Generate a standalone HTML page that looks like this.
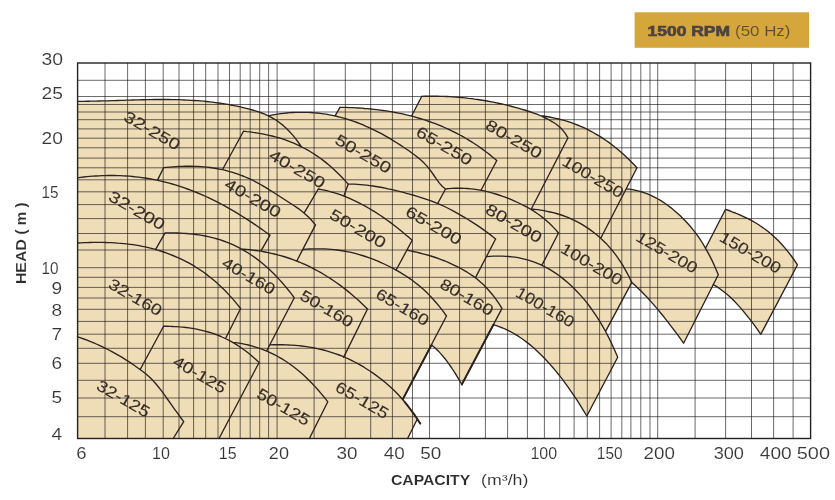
<!DOCTYPE html>
<html><head><meta charset="utf-8"><title>1500 RPM coverage chart</title>
<style>html,body{margin:0;padding:0;background:#fff;}body{width:835px;height:500px;position:relative;overflow:hidden;font-family:"Liberation Sans",sans-serif;}</style></head>
<body>
<svg width="835" height="500" viewBox="0 0 835 500" style="position:absolute;left:0;top:0;font-family:'Liberation Sans',sans-serif">
<rect width="835" height="500" fill="#fff"/>
<rect x="634.6" y="12.3" width="174.5" height="35.5" fill="#D5A63C"/>
<path d="M77.6,438.5 L77.6,101.3 L77.6,101.3 L80.7,101.3 L83.7,101.3 L86.8,101.2 L89.9,101.2 L92.9,101.1 L96.0,101.1 L99.1,101.0 L102.1,100.9 L105.2,100.8 L108.3,100.8 L111.3,100.7 L114.4,100.6 L117.5,100.5 L120.5,100.4 L123.6,100.3 L126.7,100.2 L129.7,100.1 L132.8,100.0 L135.9,99.9 L138.9,99.8 L142.0,99.7 L145.1,99.7 L148.1,99.6 L151.2,99.6 L154.3,99.5 L157.3,99.5 L160.4,99.5 L163.5,99.5 L166.5,99.5 L169.6,99.5 L172.7,99.6 L175.7,99.6 L178.8,99.7 L181.9,99.8 L184.9,100.0 L188.0,100.1 L191.1,100.3 L194.2,100.5 L197.2,100.7 L200.3,100.9 L203.4,101.2 L206.4,101.5 L209.5,101.8 L212.6,102.2 L215.6,102.6 L218.7,103.0 L221.8,103.4 L224.8,103.9 L227.9,104.4 L231.0,105.0 L234.0,105.6 L237.1,106.2 L240.2,106.9 L243.2,107.6 L246.3,108.4 L249.4,109.2 L252.4,110.0 L255.5,110.9 L258.6,111.9 L261.6,113.0 L264.7,114.2 L267.8,115.6 L268.4,115.8 L271.5,115.2 L274.5,114.6 L277.6,114.1 L280.6,113.7 L283.7,113.3 L286.7,113.0 L289.8,112.7 L292.8,112.5 L295.9,112.4 L298.9,112.3 L302.0,112.3 L305.0,112.3 L308.1,112.4 L311.1,112.5 L314.2,112.8 L317.3,113.0 L320.3,113.4 L323.4,113.8 L326.4,114.2 L329.5,114.8 L332.5,115.4 L335.2,115.6 L340.0,107.3 L340.0,107.3 L343.1,107.4 L346.1,107.4 L349.2,107.6 L352.3,107.7 L355.4,107.8 L358.4,108.0 L361.5,108.2 L364.6,108.5 L367.7,108.7 L370.7,109.0 L373.8,109.3 L376.9,109.7 L380.0,110.1 L383.0,110.5 L386.1,110.9 L389.2,111.4 L392.3,111.9 L395.3,112.5 L398.4,113.1 L401.5,113.7 L404.6,114.4 L407.6,115.1 L410.7,115.9 L411.7,115.7 L421.8,96.3 L421.8,96.3 L424.9,96.2 L428.0,96.2 L431.1,96.2 L434.2,96.2 L437.4,96.2 L440.5,96.3 L443.6,96.4 L446.7,96.5 L449.8,96.7 L452.9,96.9 L456.0,97.1 L459.1,97.3 L462.2,97.6 L465.3,97.9 L468.5,98.3 L471.6,98.6 L474.7,99.1 L477.8,99.5 L480.9,100.0 L484.0,100.5 L487.1,101.0 L490.2,101.6 L493.3,102.2 L496.5,102.8 L499.6,103.5 L502.7,104.2 L505.8,104.9 L508.9,105.7 L512.0,106.5 L515.1,107.3 L518.2,108.2 L521.3,109.1 L524.5,110.0 L527.6,111.0 L530.7,112.0 L533.8,113.1 L536.9,114.2 L540.0,115.5 L543.1,116.0 L546.3,116.5 L549.4,117.0 L552.5,117.6 L555.6,118.3 L558.8,119.0 L561.9,119.8 L565.0,120.7 L568.2,121.7 L571.3,122.7 L574.4,123.8 L577.5,125.0 L580.7,126.3 L583.8,127.7 L586.9,129.2 L590.1,130.8 L593.2,132.5 L596.3,134.3 L599.5,136.1 L602.6,138.1 L605.7,140.2 L608.8,142.4 L612.0,144.8 L615.1,147.2 L618.2,149.8 L621.4,152.5 L624.5,155.3 L627.6,158.2 L630.7,161.3 L633.9,164.5 L637.0,167.8 L637.0,167.8 L626.4,188.8 L626.4,188.8 L629.6,189.2 L632.7,189.7 L635.9,190.3 L639.1,191.1 L642.2,192.0 L645.4,193.1 L648.6,194.4 L651.8,195.8 L654.9,197.3 L658.1,199.0 L661.3,200.9 L664.4,203.0 L667.6,205.2 L670.8,207.6 L673.9,210.2 L677.1,212.9 L680.3,215.8 L683.4,219.0 L686.6,222.3 L689.8,225.8 L692.9,229.6 L696.1,233.7 L699.3,238.1 L702.5,243.0 L705.5,248.2 L725.6,209.3 L725.6,209.3 L728.9,210.5 L732.1,211.8 L735.4,213.0 L738.7,214.4 L741.9,215.8 L745.2,217.3 L748.5,218.9 L751.7,220.7 L755.0,222.5 L758.3,224.5 L761.5,226.7 L764.8,229.0 L768.1,231.5 L771.4,234.3 L774.6,237.2 L777.9,240.3 L781.2,243.7 L784.4,247.4 L787.7,251.3 L791.0,255.5 L794.2,260.0 L797.5,264.8 L797.5,264.8 L760.8,334.3 L760.8,334.3 L757.4,329.4 L754.0,324.7 L750.6,320.2 L747.1,315.8 L743.7,311.6 L740.3,307.6 L736.9,303.9 L733.5,300.3 L730.1,297.0 L726.7,294.0 L723.2,291.2 L719.8,288.7 L716.4,286.4 L713.0,284.5 L683.6,343.2 L683.6,343.2 L680.4,338.7 L677.1,334.2 L673.9,329.8 L670.6,325.6 L667.4,321.4 L664.2,317.3 L660.9,313.3 L657.7,309.4 L654.5,305.6 L651.2,301.9 L648.0,298.3 L644.8,294.9 L641.5,291.6 L638.3,288.4 L635.0,285.3 L631.8,282.4 L605.6,331.4 L608.4,336.9 L611.5,343.2 L614.6,350.0 L617.7,357.3 L617.7,357.3 L586.8,416.0 L586.8,416.0 L583.7,410.8 L580.6,405.8 L577.5,400.9 L574.3,396.2 L571.2,391.6 L568.1,387.1 L565.0,382.9 L561.9,378.7 L558.8,374.7 L555.7,370.9 L552.6,367.2 L549.4,363.6 L546.3,360.2 L543.2,357.0 L540.1,353.9 L537.0,350.9 L533.9,348.1 L530.8,345.4 L527.6,342.9 L524.5,340.5 L521.4,338.3 L518.3,336.2 L515.2,334.3 L512.1,332.5 L509.0,330.9 L505.9,329.4 L502.7,328.0 L499.6,326.8 L496.5,325.7 L493.4,324.8 L461.8,384.5 L461.8,384.5 L458.4,378.7 L455.1,373.2 L451.7,368.0 L448.3,363.2 L445.0,358.7 L441.6,354.6 L438.2,350.9 L434.9,347.7 L431.5,345.0 L402.8,399.2 L404.6,401.8 L407.7,405.7 L410.8,409.8 L414.0,414.1 L417.1,418.7 L417.2,419.2 L407.6,438.5Z" fill="#EFDDB8"/>
<path d="M105.0,63.0 V438.5 M127.6,63.0 V438.5 M145.4,63.0 V438.5 M163.2,63.0 V438.5 M179.0,63.0 V438.5 M193.6,63.0 V438.5 M205.7,63.0 V438.5 M218.0,63.0 V438.5 M229.5,63.0 V438.5 M240.2,63.0 V438.5 M250.2,63.0 V438.5 M259.7,63.0 V438.5 M268.6,63.0 V438.5 M277.1,63.0 V438.5 M314.1,63.0 V438.5 M345.3,63.0 V438.5 M370.7,63.0 V438.5 M392.4,63.0 V438.5 M412.5,63.0 V438.5 M429.5,63.0 V438.5 M459.6,63.0 V438.5 M485.4,63.0 V438.5 M507.6,63.0 V438.5 M527.4,63.0 V438.5 M544.4,63.0 V438.5 M559.7,63.0 V438.5 M574.1,63.0 V438.5 M587.3,63.0 V438.5 M599.6,63.0 V438.5 M611.1,63.0 V438.5 M621.8,63.0 V438.5 M630.9,63.0 V438.5 M640.8,63.0 V438.5 M650.0,63.0 V438.5 M657.7,63.0 V438.5 M695.1,63.0 V438.5 M725.6,63.0 V438.5 M751.5,63.0 V438.5 M773.6,63.0 V438.5 M793.1,63.0 V438.5" stroke="#141210" stroke-width="0.63" fill="none"/>
<path d="M77.6,416.7 H810.6 M77.6,398.0 H810.6 M77.6,380.3 H810.6 M77.6,363.3 H810.6 M77.6,348.3 H810.6 M77.6,334.2 H810.6 M77.6,321.4 H810.6 M77.6,309.3 H810.6 M77.6,298.0 H810.6 M77.6,287.4 H810.6 M77.6,277.3 H810.6 M77.6,267.7 H810.6 M77.6,250.0 H810.6 M77.6,233.5 H810.6 M77.6,218.6 H810.6 M77.6,204.6 H810.6 M77.6,191.8 H810.6 M77.6,179.8 H810.6 M77.6,167.8 H810.6 M77.6,158.1 H810.6 M77.6,147.8 H810.6 M77.6,138.2 H810.6 M77.6,128.9 H810.6 M77.6,119.7 H810.6 M77.6,112.0 H810.6 M77.6,104.5 H810.6 M77.6,96.5 H810.6 M77.6,80.3 H810.6" stroke="#141210" stroke-width="0.63" fill="none"/>
<rect x="77.6" y="63.0" width="733.0" height="375.5" fill="none" stroke="#222" stroke-width="1.4"/>
<path d="M77.6,101.3 L80.7,101.3 L83.7,101.3 L86.8,101.2 L89.9,101.2 L92.9,101.1 L96.0,101.1 L99.1,101.0 L102.1,100.9 L105.2,100.8 L108.3,100.8 L111.3,100.7 L114.4,100.6 L117.5,100.5 L120.5,100.4 L123.6,100.3 L126.7,100.2 L129.7,100.1 L132.8,100.0 L135.9,99.9 L138.9,99.8 L142.0,99.7 L145.1,99.7 L148.1,99.6 L151.2,99.6 L154.3,99.5 L157.3,99.5 L160.4,99.5 L163.5,99.5 L166.5,99.5 L169.6,99.5 L172.7,99.6 L175.7,99.6 L178.8,99.7 L181.9,99.8 L184.9,100.0 L188.0,100.1 L191.1,100.3 L194.2,100.5 L197.2,100.7 L200.3,100.9 L203.4,101.2 L206.4,101.5 L209.5,101.8 L212.6,102.2 L215.6,102.6 L218.7,103.0 L221.8,103.4 L224.8,103.9 L227.9,104.4 L231.0,105.0 L234.0,105.6 L237.1,106.2 L240.2,106.9 L243.2,107.6 L246.3,108.4 L249.4,109.2 L252.4,110.0 L255.5,110.9 L258.6,111.9 L261.6,113.0 L264.7,114.2 L267.8,115.6 L270.8,117.1 L273.9,118.8 L277.0,120.8 L280.0,123.0 L283.1,125.4 L286.2,128.2 L289.2,131.2 L292.3,134.6 L295.4,138.4 L298.4,142.5 L301.5,147.0 M222.7,169.3 L243.5,131.2 M243.5,131.2 L246.7,131.6 L249.8,131.9 L253.0,132.4 L256.2,132.8 L259.4,133.4 L262.5,133.9 L265.7,134.6 L268.9,135.3 L272.1,136.0 L275.2,136.8 L278.4,137.7 L281.6,138.7 L284.7,139.7 L287.9,140.9 L291.1,142.1 L294.3,143.4 L297.4,144.8 L300.6,146.3 L303.8,148.0 L307.0,149.7 L310.1,151.5 L313.3,153.5 L316.5,155.6 L319.6,157.8 L322.8,160.1 L326.0,162.6 L329.2,165.2 L332.3,168.0 L335.5,170.9 L338.7,174.0 L341.9,177.2 L345.0,180.6 L348.2,184.1 M348.2,184.1 L343.9,196.0 M268.4,115.8 L271.5,115.2 L274.5,114.6 L277.6,114.1 L280.6,113.7 L283.7,113.3 L286.7,113.0 L289.8,112.7 L292.8,112.5 L295.9,112.4 L298.9,112.3 L302.0,112.3 L305.0,112.3 L308.1,112.4 L311.1,112.5 L314.2,112.8 L317.3,113.0 L320.3,113.4 L323.4,113.8 L326.4,114.2 L329.5,114.8 L332.5,115.4 L335.6,116.0 L338.6,116.8 L341.7,117.6 L344.7,118.4 L347.8,119.3 L350.8,120.3 L353.9,121.4 L356.9,122.5 L360.0,123.7 L363.1,124.9 L366.1,126.3 L369.2,127.6 L372.2,129.1 L375.3,130.6 L378.3,132.1 L381.4,133.7 L384.4,135.4 L387.5,137.1 L390.5,138.9 L393.6,140.8 L396.6,142.7 L399.7,144.6 L402.8,146.7 L405.8,148.7 L408.9,150.8 L411.9,153.0 L415.0,155.3 L418.0,157.6 L421.1,160.2 L424.1,163.1 L427.2,166.4 L430.2,170.2 L433.3,174.5 L436.3,178.9 L439.4,183.1 L442.4,186.5 L445.5,189.0 M445.5,189.0 L437.8,203.3 M335.2,115.6 L340.0,107.3 M340.0,107.3 L343.1,107.4 L346.1,107.4 L349.2,107.6 L352.3,107.7 L355.4,107.8 L358.4,108.0 L361.5,108.2 L364.6,108.5 L367.7,108.7 L370.7,109.0 L373.8,109.3 L376.9,109.7 L380.0,110.1 L383.0,110.5 L386.1,110.9 L389.2,111.4 L392.3,111.9 L395.3,112.5 L398.4,113.1 L401.5,113.7 L404.6,114.4 L407.6,115.1 L410.7,115.9 L413.8,116.7 L416.9,117.6 L419.9,118.5 L423.0,119.4 L426.1,120.4 L429.2,121.5 L432.2,122.6 L435.3,123.7 L438.4,124.9 L441.5,126.2 L444.5,127.5 L447.6,128.9 L450.7,130.3 L453.8,131.8 L456.8,133.4 L459.9,135.0 L463.0,136.7 L466.1,138.5 L469.1,140.3 L472.2,142.2 L475.3,144.2 L478.4,146.3 L481.4,148.4 L484.5,150.7 L487.6,153.0 L490.7,155.4 L493.7,157.9 L496.8,160.5 M496.8,160.5 L481.3,189.8 M411.7,115.7 L421.8,96.3 M421.8,96.3 L424.9,96.2 L428.0,96.2 L431.1,96.2 L434.2,96.2 L437.4,96.2 L440.5,96.3 L443.6,96.4 L446.7,96.5 L449.8,96.7 L452.9,96.9 L456.0,97.1 L459.1,97.3 L462.2,97.6 L465.3,97.9 L468.5,98.3 L471.6,98.6 L474.7,99.1 L477.8,99.5 L480.9,100.0 L484.0,100.5 L487.1,101.0 L490.2,101.6 L493.3,102.2 L496.5,102.8 L499.6,103.5 L502.7,104.2 L505.8,104.9 L508.9,105.7 L512.0,106.5 L515.1,107.3 L518.2,108.2 L521.3,109.1 L524.5,110.0 L527.6,111.0 L530.7,112.0 L533.8,113.1 L536.9,114.2 L540.0,115.5 L543.1,116.8 L546.2,118.3 L549.3,120.0 L552.4,121.8 L555.6,123.8 L558.7,126.2 L561.8,129.1 L564.9,132.9 L568.0,137.8 M568.0,137.8 L531.3,209.0 M540.0,115.6 L543.1,116.0 L546.3,116.5 L549.4,117.0 L552.5,117.6 L555.6,118.3 L558.8,119.0 L561.9,119.8 L565.0,120.7 L568.2,121.7 L571.3,122.7 L574.4,123.8 L577.5,125.0 L580.7,126.3 L583.8,127.7 L586.9,129.2 L590.1,130.8 L593.2,132.5 L596.3,134.3 L599.5,136.1 L602.6,138.1 L605.7,140.2 L608.8,142.4 L612.0,144.8 L615.1,147.2 L618.2,149.8 L621.4,152.5 L624.5,155.3 L627.6,158.2 L630.7,161.3 L633.9,164.5 L637.0,167.8 M637.0,167.8 L601.0,237.8 M77.6,177.8 L80.7,177.4 L83.7,177.0 L86.8,176.7 L89.8,176.4 L92.9,176.2 L95.9,176.0 L99.0,175.8 L102.0,175.6 L105.1,175.6 L108.1,175.5 L111.2,175.5 L114.2,175.5 L117.3,175.6 L120.4,175.7 L123.4,175.8 L126.5,176.0 L129.5,176.2 L132.6,176.5 L135.6,176.8 L138.7,177.2 L141.7,177.6 L144.8,178.0 L147.8,178.5 L150.9,179.0 L153.9,179.6 L157.0,180.2 L160.1,180.9 L163.1,181.6 L166.2,182.4 L169.2,183.2 L172.3,184.0 L175.3,184.9 L178.4,185.9 L181.4,186.9 L184.5,187.9 L187.5,189.0 L190.6,190.1 L193.7,191.3 L196.7,192.5 L199.8,193.8 L202.8,195.1 L205.9,196.5 L208.9,197.9 L212.0,199.4 L215.0,200.9 L218.1,202.4 L221.1,204.0 L224.2,205.7 L227.2,207.4 L230.3,209.1 L233.4,210.9 L236.4,212.7 L239.5,214.6 L242.5,216.5 L245.6,218.4 L248.6,220.4 L251.7,222.4 L254.7,224.4 L257.8,226.5 L260.8,228.6 L263.9,230.8 L266.9,233.0 L270.0,235.2 M270.0,235.2 L261.0,250.8 M157.5,180.1 L163.6,167.7 M163.6,167.7 L166.7,167.4 L169.8,167.1 L172.9,166.8 L176.0,166.6 L179.1,166.4 L182.2,166.3 L185.3,166.2 L188.4,166.2 L191.5,166.2 L194.6,166.3 L197.7,166.4 L200.8,166.6 L203.9,166.9 L207.0,167.2 L210.1,167.5 L213.2,168.0 L216.3,168.5 L219.4,169.1 L222.5,169.7 L225.6,170.4 L228.7,171.3 L231.8,172.1 L234.9,173.1 L238.0,174.1 L241.1,175.3 L244.2,176.5 L247.3,177.8 L250.4,179.2 L253.5,180.7 L256.6,182.3 L259.7,184.0 L262.8,185.8 L265.9,187.6 L269.0,189.6 L272.1,191.5 L275.2,193.5 L278.3,195.5 L281.4,197.5 L284.5,199.5 L287.6,201.5 L290.7,203.5 L293.8,205.5 L296.9,207.6 L300.0,209.8 L303.1,212.2 L306.2,214.9 L309.3,217.8 L312.4,221.2 L315.5,224.9 M315.5,224.9 L296.8,261.0 M304.2,212.8 L318.3,189.0 M318.3,189.0 L321.4,189.6 L324.6,190.2 L327.7,190.9 L330.8,191.8 L333.9,192.7 L337.1,193.7 L340.2,194.7 L343.3,195.9 L346.5,197.1 L349.6,198.4 L352.7,199.8 L355.9,201.3 L359.0,202.8 L362.1,204.5 L365.2,206.2 L368.4,208.0 L371.5,209.8 L374.6,211.7 L377.8,213.7 L380.9,215.8 L384.0,217.9 L387.2,220.2 L390.3,222.4 L393.4,224.8 L396.6,227.2 L399.7,229.7 L402.8,232.3 L405.9,234.9 L409.1,237.6 L412.2,240.3 M412.2,240.3 L396.0,270.3 M348.2,184.1 L351.3,184.1 L354.3,184.2 L357.4,184.4 L360.5,184.6 L363.6,184.9 L366.6,185.2 L369.7,185.6 L372.8,186.0 L375.8,186.5 L378.9,187.0 L382.0,187.5 L385.1,188.1 L388.1,188.8 L391.2,189.4 L394.3,190.1 L397.3,190.9 L400.4,191.6 L403.5,192.4 L406.5,193.3 L409.6,194.1 L412.7,195.0 L415.8,195.9 L418.8,196.8 L421.9,197.8 L425.0,198.8 L428.0,199.8 L431.1,200.9 L434.2,202.1 L437.3,203.3 L440.3,204.6 L443.4,206.0 L446.5,207.5 L449.5,209.0 L452.6,210.7 L455.7,212.3 L458.8,214.1 L461.8,215.8 L464.9,217.6 L468.0,219.5 L471.0,221.4 L474.1,223.4 L477.2,225.4 L480.2,227.4 L483.3,229.6 L486.4,231.8 L489.5,234.1 L492.5,236.5 L495.6,239.0 M495.6,239.0 L475.5,277.6 M445.5,189.0 L448.6,188.7 L451.8,188.4 L454.9,188.2 L458.1,188.2 L461.2,188.2 L464.3,188.3 L467.5,188.5 L470.6,188.8 L473.8,189.1 L476.9,189.6 L480.0,190.1 L483.2,190.7 L486.3,191.4 L489.4,192.2 L492.6,193.1 L495.7,194.0 L498.9,195.0 L502.0,196.1 L505.1,197.2 L508.3,198.4 L511.4,199.7 L514.6,201.1 L517.7,202.5 L520.8,204.0 L524.0,205.6 L527.1,207.2 L530.2,209.0 L533.4,210.9 L536.5,213.0 L539.7,215.2 L542.8,217.6 L545.9,220.2 L549.1,223.1 L552.2,226.1 L555.4,229.4 L558.5,233.0 M558.5,233.0 L542.1,264.9 M531.3,209.0 L534.4,209.3 L537.6,209.7 L540.7,210.2 L543.9,210.7 L547.0,211.3 L550.1,212.0 L553.3,212.7 L556.4,213.5 L559.6,214.5 L562.7,215.5 L565.8,216.6 L569.0,217.9 L572.1,219.3 L575.3,220.8 L578.4,222.4 L581.5,224.2 L584.7,226.1 L587.8,228.1 L591.0,230.4 L594.1,232.7 L597.3,235.3 L600.4,238.1 L603.5,241.0 L606.7,244.1 L609.8,247.6 L613.0,251.3 L616.1,255.4 L619.2,259.8 L622.4,264.7 L625.5,270.1 L628.7,276.0 L631.8,282.4 M631.8,282.4 L605.6,331.4 M626.4,188.8 L629.6,189.2 L632.7,189.7 L635.9,190.3 L639.1,191.1 L642.2,192.0 L645.4,193.1 L648.6,194.4 L651.8,195.8 L654.9,197.3 L658.1,199.0 L661.3,200.9 L664.4,203.0 L667.6,205.2 L670.8,207.6 L673.9,210.2 L677.1,212.9 L680.3,215.8 L683.4,219.0 L686.6,222.3 L689.8,225.8 L692.9,229.6 L696.1,233.7 L699.3,238.1 L702.5,243.0 L705.6,248.3 L708.8,254.1 L712.0,260.4 L715.1,267.3 L718.3,274.8 M718.3,274.8 L683.6,343.2 M631.8,282.4 L635.0,285.3 L638.3,288.4 L641.5,291.6 L644.8,294.9 L648.0,298.3 L651.2,301.9 L654.5,305.6 L657.7,309.4 L660.9,313.3 L664.2,317.3 L667.4,321.4 L670.6,325.6 L673.9,329.8 L677.1,334.2 L680.4,338.7 L683.6,343.2 M705.5,248.2 L725.6,209.3 M725.6,209.3 L728.9,210.5 L732.1,211.8 L735.4,213.0 L738.7,214.4 L741.9,215.8 L745.2,217.3 L748.5,218.9 L751.7,220.7 L755.0,222.5 L758.3,224.5 L761.5,226.7 L764.8,229.0 L768.1,231.5 L771.4,234.3 L774.6,237.2 L777.9,240.3 L781.2,243.7 L784.4,247.4 L787.7,251.3 L791.0,255.5 L794.2,260.0 L797.5,264.8 M797.5,264.8 L760.8,334.3 M713.0,284.5 L716.4,286.4 L719.8,288.7 L723.2,291.2 L726.7,294.0 L730.1,297.0 L733.5,300.3 L736.9,303.9 L740.3,307.6 L743.7,311.6 L747.1,315.8 L750.6,320.2 L754.0,324.7 L757.4,329.4 L760.8,334.3 M77.6,243.0 L80.7,242.8 L83.8,242.7 L86.8,242.6 L89.9,242.5 L93.0,242.4 L96.1,242.4 L99.1,242.4 L102.2,242.4 L105.3,242.5 L108.4,242.6 L111.4,242.7 L114.5,242.8 L117.6,243.1 L120.7,243.3 L123.7,243.6 L126.8,243.9 L129.9,244.3 L133.0,244.7 L136.0,245.2 L139.1,245.7 L142.2,246.3 L145.3,246.9 L148.3,247.6 L151.4,248.4 L154.5,249.2 L157.6,250.1 L160.6,251.0 L163.7,252.0 L166.8,253.1 L169.9,254.3 L172.9,255.5 L176.0,256.8 L179.1,258.1 L182.2,259.6 L185.2,261.1 L188.3,262.7 L191.4,264.4 L194.5,266.2 L197.5,268.2 L200.6,270.2 L203.7,272.3 L206.8,274.6 L209.8,277.0 L212.9,279.5 L216.0,282.1 L219.1,284.9 L222.1,287.8 L225.2,290.8 L228.3,294.1 L231.4,297.4 L234.4,300.9 L237.5,304.6 L240.6,308.5 M240.6,308.5 L225.9,337.8 M155.5,249.7 L165.1,232.9 M165.1,232.9 L168.2,232.9 L171.3,232.9 L174.3,232.9 L177.4,233.0 L180.5,233.1 L183.6,233.3 L186.6,233.5 L189.7,233.8 L192.8,234.1 L195.9,234.5 L198.9,234.9 L202.0,235.4 L205.1,236.0 L208.2,236.6 L211.2,237.3 L214.3,238.1 L217.4,239.0 L220.5,239.9 L223.5,241.0 L226.6,242.1 L229.7,243.3 L232.8,244.7 L235.9,246.1 L238.9,247.7 L242.0,249.3 L245.1,251.1 L248.2,253.0 L251.2,255.0 L254.3,257.1 L257.4,259.4 L260.5,261.8 L263.5,264.3 L266.6,267.0 L269.7,269.8 L272.8,272.7 L275.8,275.8 L278.9,279.1 L282.0,282.5 L285.1,286.1 L288.1,289.8 L291.2,293.7 L294.3,297.8 M294.3,297.8 L266.6,351.0 M240.2,249.0 L243.3,249.2 L246.4,249.4 L249.5,249.7 L252.6,250.1 L255.7,250.5 L258.8,250.9 L261.9,251.4 L265.0,252.0 L268.1,252.6 L271.2,253.3 L274.4,254.0 L277.5,254.8 L280.6,255.6 L283.7,256.5 L286.8,257.5 L289.9,258.5 L293.0,259.6 L296.1,260.8 L299.2,262.0 L302.3,263.3 L305.4,264.7 L308.5,266.2 L311.6,267.7 L314.7,269.3 L317.8,271.0 L320.9,272.7 L324.0,274.5 L327.1,276.5 L330.2,278.4 L333.3,280.5 L336.5,282.7 L339.6,284.9 L342.7,287.2 L345.8,289.6 L348.9,292.1 L352.0,294.7 L355.1,297.4 L358.2,300.1 L361.3,303.0 L364.4,306.0 L367.5,309.0 M367.5,309.0 L343.6,357.4 M303.1,249.5 L306.2,249.2 L309.3,249.0 L312.5,248.9 L315.6,248.8 L318.7,248.8 L321.8,248.8 L324.9,248.9 L328.0,249.1 L331.2,249.3 L334.3,249.6 L337.4,250.0 L340.5,250.5 L343.6,251.0 L346.7,251.6 L349.9,252.2 L353.0,252.9 L356.1,253.7 L359.2,254.6 L362.3,255.5 L365.4,256.5 L368.6,257.6 L371.7,258.7 L374.8,259.9 L377.9,261.2 L381.0,262.6 L384.2,264.0 L387.3,265.5 L390.4,267.0 L393.5,268.7 L396.6,270.4 L399.7,272.2 L402.9,274.1 L406.0,276.0 L409.1,278.1 L412.2,280.3 L415.3,282.7 L418.4,285.1 L421.6,287.8 L424.7,290.6 L427.8,293.6 L430.9,296.8 L434.0,300.2 L437.1,303.8 L440.3,307.6 L443.4,311.7 L446.5,316.0 M446.5,316.0 L402.8,399.2 M407.0,250.2 L410.2,250.8 L413.3,251.5 L416.5,252.2 L419.7,253.0 L422.8,253.8 L426.0,254.6 L429.2,255.5 L432.3,256.5 L435.5,257.5 L438.7,258.6 L441.8,259.8 L445.0,261.0 L448.2,262.4 L451.3,263.8 L454.5,265.3 L457.7,266.8 L460.8,268.5 L464.0,270.3 L467.2,272.2 L470.3,274.2 L473.5,276.4 L476.7,278.8 L479.8,281.5 L483.0,284.3 L486.2,287.5 L489.3,291.0 L492.5,294.7 L495.7,298.9 L498.8,303.4 L502.0,308.4 M502.0,308.4 L461.8,384.5 M431.5,345.0 L434.9,347.7 L438.2,350.9 L441.6,354.6 L445.0,358.7 L448.3,363.2 L451.7,368.0 L455.1,373.2 L458.4,378.7 L461.8,384.5 M487.0,256.6 L490.1,256.4 L493.2,256.2 L496.3,256.1 L499.4,256.1 L502.6,256.1 L505.7,256.3 L508.8,256.5 L511.9,256.8 L515.0,257.2 L518.1,257.7 L521.2,258.3 L524.3,259.1 L527.5,259.9 L530.6,260.9 L533.7,261.9 L536.8,263.1 L539.9,264.4 L543.0,265.9 L546.1,267.5 L549.2,269.2 L552.4,271.1 L555.5,273.1 L558.6,275.3 L561.7,277.6 L564.8,280.1 L567.9,282.7 L571.0,285.5 L574.1,288.5 L577.2,291.7 L580.4,295.1 L583.5,298.6 L586.6,302.4 L589.7,306.5 L592.8,310.8 L595.9,315.4 L599.0,320.2 L602.1,325.4 L605.3,331.0 L608.4,336.9 L611.5,343.2 L614.6,350.0 L617.7,357.3 M617.7,357.3 L586.8,416.0 M493.4,324.8 L496.5,325.7 L499.6,326.8 L502.7,328.0 L505.9,329.4 L509.0,330.9 L512.1,332.5 L515.2,334.3 L518.3,336.2 L521.4,338.3 L524.5,340.5 L527.6,342.9 L530.8,345.4 L533.9,348.1 L537.0,350.9 L540.1,353.9 L543.2,357.0 L546.3,360.2 L549.4,363.6 L552.6,367.2 L555.7,370.9 L558.8,374.7 L561.9,378.7 L565.0,382.9 L568.1,387.1 L571.2,391.6 L574.3,396.2 L577.5,400.9 L580.6,405.8 L583.7,410.8 L586.8,416.0 M77.6,336.8 L80.7,337.9 L83.8,339.0 L87.0,340.1 L90.1,341.4 L93.2,342.6 L96.3,344.0 L99.4,345.4 L102.6,346.9 L105.7,348.4 L108.8,350.0 L111.9,351.6 L115.0,353.3 L118.2,355.1 L121.3,356.9 L124.4,358.9 L127.5,360.8 L130.6,362.9 L133.8,365.0 L136.9,367.2 L140.0,369.5 L143.1,371.8 L146.3,374.3 L149.4,377.1 L152.5,380.1 L155.6,383.5 L158.7,387.3 L161.9,391.4 L165.0,395.6 L168.1,400.0 L171.2,404.4 L174.3,408.8 L177.5,413.2 L180.6,417.5 L183.7,421.7 M183.7,421.7 L173.2,438.5 M140.2,369.5 L163.6,326.2 M163.6,326.2 L166.8,326.2 L170.0,326.3 L173.2,326.5 L176.3,326.6 L179.5,326.9 L182.7,327.1 L185.9,327.5 L189.1,327.9 L192.2,328.4 L195.4,328.9 L198.6,329.6 L201.8,330.3 L205.0,331.1 L208.2,332.0 L211.4,332.9 L214.5,334.0 L217.7,335.2 L220.9,336.5 L224.1,338.0 L227.3,339.5 L230.5,341.2 L233.6,343.0 L236.8,344.9 L240.0,347.0 L243.2,349.2 L246.4,351.5 L249.6,354.0 L252.7,356.7 L255.9,359.5 L259.1,362.5 M259.1,362.5 L219.0,438.5 M232.5,342.3 L235.7,342.7 L238.9,343.1 L242.0,343.7 L245.2,344.3 L248.4,345.0 L251.6,345.8 L254.7,346.8 L257.9,347.8 L261.1,348.9 L264.3,350.1 L267.4,351.4 L270.6,352.8 L273.8,354.4 L277.0,356.0 L280.1,357.8 L283.3,359.7 L286.5,361.8 L289.7,364.0 L292.9,366.3 L296.0,368.7 L299.2,371.3 L302.4,374.1 L305.6,377.0 L308.7,380.0 L311.9,383.2 L315.1,386.6 L318.3,390.2 L321.4,393.9 L324.6,397.7 L327.8,401.8 M327.8,401.8 L309.4,438.5 M270.4,344.8 L273.5,344.7 L276.6,344.7 L279.8,344.7 L282.9,344.7 L286.0,344.8 L289.1,345.0 L292.2,345.1 L295.4,345.4 L298.5,345.7 L301.6,346.0 L304.7,346.4 L307.8,346.8 L311.0,347.3 L314.1,347.9 L317.2,348.6 L320.3,349.3 L323.5,350.0 L326.6,350.9 L329.7,351.8 L332.8,352.8 L335.9,353.8 L339.1,355.0 L342.2,356.2 L345.3,357.5 L348.4,358.9 L351.5,360.4 L354.7,362.0 L357.8,363.6 L360.9,365.4 L364.0,367.2 L367.1,369.2 L370.3,371.2 L373.4,373.4 L376.5,375.6 L379.6,378.0 L382.8,380.4 L385.9,383.0 L389.0,385.7 L392.1,388.6 L395.2,391.6 L398.4,394.8 L401.5,398.2 L404.6,401.8 L407.7,405.7 L410.8,409.8 L414.0,414.1 L417.1,418.7 L420.2,423.6 M417.2,419.2 L407.6,438.5" stroke="#2b2320" stroke-width="1.35" fill="none" stroke-linejoin="round" stroke-linecap="round"/>
<path d="M431.5,345.0 L402.8,399.2 M404.6,401.8 L407.7,405.7 L410.8,409.8 L414.0,414.1 L417.1,418.7 L420.2,423.6 M493.4,324.8 L461.8,384.5" stroke="#2b2320" stroke-width="1.9" fill="none" stroke-linecap="round" stroke-linejoin="round"/>
<g opacity="0.99">
<text transform="translate(152.2,130.5) rotate(30)" x="0" y="5.5" text-anchor="middle" font-size="15.8" textLength="62.0" lengthAdjust="spacingAndGlyphs" fill="#332c26" stroke="#332c26" stroke-width="0.1">32-250</text>
<text transform="translate(297.3,168.9) rotate(30)" x="0" y="5.5" text-anchor="middle" font-size="15.8" textLength="62.0" lengthAdjust="spacingAndGlyphs" fill="#332c26" stroke="#332c26" stroke-width="0.1">40-250</text>
<text transform="translate(363.3,153.7) rotate(30)" x="0" y="5.5" text-anchor="middle" font-size="15.8" textLength="62.0" lengthAdjust="spacingAndGlyphs" fill="#332c26" stroke="#332c26" stroke-width="0.1">50-250</text>
<text transform="translate(444.3,145.7) rotate(30)" x="0" y="5.5" text-anchor="middle" font-size="15.8" textLength="62.0" lengthAdjust="spacingAndGlyphs" fill="#332c26" stroke="#332c26" stroke-width="0.1">65-250</text>
<text transform="translate(513.9,139.1) rotate(30)" x="0" y="5.5" text-anchor="middle" font-size="15.8" textLength="62.0" lengthAdjust="spacingAndGlyphs" fill="#332c26" stroke="#332c26" stroke-width="0.1">80-250</text>
<text transform="translate(593.1,176.8) rotate(30)" x="0" y="5.5" text-anchor="middle" font-size="15.8" textLength="68.0" lengthAdjust="spacingAndGlyphs" fill="#332c26" stroke="#332c26" stroke-width="0.1">100-250</text>
<text transform="translate(136.9,210.3) rotate(30)" x="0" y="5.5" text-anchor="middle" font-size="15.8" textLength="62.0" lengthAdjust="spacingAndGlyphs" fill="#332c26" stroke="#332c26" stroke-width="0.1">32-200</text>
<text transform="translate(252.9,198.0) rotate(30)" x="0" y="5.5" text-anchor="middle" font-size="15.8" textLength="62.0" lengthAdjust="spacingAndGlyphs" fill="#332c26" stroke="#332c26" stroke-width="0.1">40-200</text>
<text transform="translate(357.9,228.5) rotate(30)" x="0" y="5.5" text-anchor="middle" font-size="15.8" textLength="62.0" lengthAdjust="spacingAndGlyphs" fill="#332c26" stroke="#332c26" stroke-width="0.1">50-200</text>
<text transform="translate(433.8,225.4) rotate(30)" x="0" y="5.5" text-anchor="middle" font-size="15.8" textLength="62.0" lengthAdjust="spacingAndGlyphs" fill="#332c26" stroke="#332c26" stroke-width="0.1">65-200</text>
<text transform="translate(513.9,223.3) rotate(30)" x="0" y="5.5" text-anchor="middle" font-size="15.8" textLength="62.0" lengthAdjust="spacingAndGlyphs" fill="#332c26" stroke="#332c26" stroke-width="0.1">80-200</text>
<text transform="translate(591.8,264.1) rotate(30)" x="0" y="5.5" text-anchor="middle" font-size="15.8" textLength="68.0" lengthAdjust="spacingAndGlyphs" fill="#332c26" stroke="#332c26" stroke-width="0.1">100-200</text>
<text transform="translate(667.0,252.2) rotate(30)" x="0" y="5.5" text-anchor="middle" font-size="15.8" textLength="68.0" lengthAdjust="spacingAndGlyphs" fill="#332c26" stroke="#332c26" stroke-width="0.1">125-200</text>
<text transform="translate(750.4,252.4) rotate(30)" x="0" y="5.5" text-anchor="middle" font-size="15.8" textLength="68.0" lengthAdjust="spacingAndGlyphs" fill="#332c26" stroke="#332c26" stroke-width="0.1">150-200</text>
<text transform="translate(135.4,297.2) rotate(30)" x="0" y="5.5" text-anchor="middle" font-size="15.8" textLength="58.5" lengthAdjust="spacingAndGlyphs" fill="#332c26" stroke="#332c26" stroke-width="0.1">32-160</text>
<text transform="translate(248.8,275.8) rotate(30)" x="0" y="5.5" text-anchor="middle" font-size="15.8" textLength="58.5" lengthAdjust="spacingAndGlyphs" fill="#332c26" stroke="#332c26" stroke-width="0.1">40-160</text>
<text transform="translate(326.8,308.5) rotate(30)" x="0" y="5.5" text-anchor="middle" font-size="15.8" textLength="58.5" lengthAdjust="spacingAndGlyphs" fill="#332c26" stroke="#332c26" stroke-width="0.1">50-160</text>
<text transform="translate(402.5,307.0) rotate(30)" x="0" y="5.5" text-anchor="middle" font-size="15.8" textLength="58.5" lengthAdjust="spacingAndGlyphs" fill="#332c26" stroke="#332c26" stroke-width="0.1">65-160</text>
<text transform="translate(466.9,297.0) rotate(30)" x="0" y="5.5" text-anchor="middle" font-size="15.8" textLength="58.5" lengthAdjust="spacingAndGlyphs" fill="#332c26" stroke="#332c26" stroke-width="0.1">80-160</text>
<text transform="translate(545.2,307.1) rotate(30)" x="0" y="5.5" text-anchor="middle" font-size="15.8" textLength="64.5" lengthAdjust="spacingAndGlyphs" fill="#332c26" stroke="#332c26" stroke-width="0.1">100-160</text>
<text transform="translate(123.4,398.6) rotate(30)" x="0" y="5.5" text-anchor="middle" font-size="15.8" textLength="58.5" lengthAdjust="spacingAndGlyphs" fill="#332c26" stroke="#332c26" stroke-width="0.1">32-125</text>
<text transform="translate(199.8,374.5) rotate(30)" x="0" y="5.5" text-anchor="middle" font-size="15.8" textLength="58.5" lengthAdjust="spacingAndGlyphs" fill="#332c26" stroke="#332c26" stroke-width="0.1">40-125</text>
<text transform="translate(283.6,406.8) rotate(30)" x="0" y="5.5" text-anchor="middle" font-size="15.8" textLength="58.5" lengthAdjust="spacingAndGlyphs" fill="#332c26" stroke="#332c26" stroke-width="0.1">50-125</text>
<text transform="translate(362.2,400.0) rotate(30)" x="0" y="5.5" text-anchor="middle" font-size="15.8" textLength="58.5" lengthAdjust="spacingAndGlyphs" fill="#332c26" stroke="#332c26" stroke-width="0.1">65-125</text>
<text x="81.5" y="458.9" text-anchor="middle" font-size="16.0" textLength="10.3" lengthAdjust="spacingAndGlyphs" fill="#333" stroke="#fff" stroke-width="0.12">6</text>
<text x="161" y="458.9" text-anchor="middle" font-size="16.0" textLength="17.8" lengthAdjust="spacingAndGlyphs" fill="#333" stroke="#fff" stroke-width="0.12">10</text>
<text x="227.7" y="458.9" text-anchor="middle" font-size="16.0" textLength="17.8" lengthAdjust="spacingAndGlyphs" fill="#333" stroke="#fff" stroke-width="0.12">15</text>
<text x="278.9" y="458.9" text-anchor="middle" font-size="16.0" textLength="20.1" lengthAdjust="spacingAndGlyphs" fill="#333" stroke="#fff" stroke-width="0.12">20</text>
<text x="347" y="458.9" text-anchor="middle" font-size="16.0" textLength="21" lengthAdjust="spacingAndGlyphs" fill="#333" stroke="#fff" stroke-width="0.12">30</text>
<text x="394.2" y="458.9" text-anchor="middle" font-size="16.0" textLength="21" lengthAdjust="spacingAndGlyphs" fill="#333" stroke="#fff" stroke-width="0.12">40</text>
<text x="430.8" y="458.9" text-anchor="middle" font-size="16.0" textLength="21" lengthAdjust="spacingAndGlyphs" fill="#333" stroke="#fff" stroke-width="0.12">50</text>
<text x="543.8" y="458.9" text-anchor="middle" font-size="16.0" textLength="26.6" lengthAdjust="spacingAndGlyphs" fill="#333" stroke="#fff" stroke-width="0.12">100</text>
<text x="609.7" y="458.9" text-anchor="middle" font-size="16.0" textLength="25.7" lengthAdjust="spacingAndGlyphs" fill="#333" stroke="#fff" stroke-width="0.12">150</text>
<text x="659.2" y="458.9" text-anchor="middle" font-size="16.0" textLength="31.3" lengthAdjust="spacingAndGlyphs" fill="#333" stroke="#fff" stroke-width="0.12">200</text>
<text x="728.8" y="458.9" text-anchor="middle" font-size="16.0" textLength="30.3" lengthAdjust="spacingAndGlyphs" fill="#333" stroke="#fff" stroke-width="0.12">300</text>
<text x="775.7" y="458.9" text-anchor="middle" font-size="16.0" textLength="31.9" lengthAdjust="spacingAndGlyphs" fill="#333" stroke="#fff" stroke-width="0.12">400</text>
<text x="813.4" y="458.9" text-anchor="middle" font-size="16.0" textLength="33.2" lengthAdjust="spacingAndGlyphs" fill="#333" stroke="#fff" stroke-width="0.12">500</text>
<text x="41.6" y="65.4" font-size="16.0" textLength="21.5" lengthAdjust="spacingAndGlyphs" fill="#333" stroke="#fff" stroke-width="0.12">30</text>
<text x="41.6" y="98.8" font-size="16.0" textLength="21.4" lengthAdjust="spacingAndGlyphs" fill="#333" stroke="#fff" stroke-width="0.12">25</text>
<text x="41.6" y="144.0" font-size="16.0" textLength="21.4" lengthAdjust="spacingAndGlyphs" fill="#333" stroke="#fff" stroke-width="0.12">20</text>
<text x="41.6" y="198.0" font-size="16.0" textLength="17" lengthAdjust="spacingAndGlyphs" fill="#333" stroke="#fff" stroke-width="0.12">15</text>
<text x="41.6" y="273.5" font-size="16.0" textLength="17" lengthAdjust="spacingAndGlyphs" fill="#333" stroke="#fff" stroke-width="0.12">10</text>
<text x="51.4" y="294.0" font-size="16.0" textLength="10.6" lengthAdjust="spacingAndGlyphs" fill="#333" stroke="#fff" stroke-width="0.12">9</text>
<text x="51.4" y="315.7" font-size="16.0" textLength="10.6" lengthAdjust="spacingAndGlyphs" fill="#333" stroke="#fff" stroke-width="0.12">8</text>
<text x="51.4" y="340.0" font-size="16.0" textLength="10.6" lengthAdjust="spacingAndGlyphs" fill="#333" stroke="#fff" stroke-width="0.12">7</text>
<text x="51.4" y="368.5" font-size="16.0" textLength="10.6" lengthAdjust="spacingAndGlyphs" fill="#333" stroke="#fff" stroke-width="0.12">6</text>
<text x="51.4" y="403.2" font-size="16.0" textLength="10.6" lengthAdjust="spacingAndGlyphs" fill="#333" stroke="#fff" stroke-width="0.12">5</text>
<text x="51.4" y="439.7" font-size="16.0" textLength="10.6" lengthAdjust="spacingAndGlyphs" fill="#333" stroke="#fff" stroke-width="0.12">4</text>
<text x="390.9" y="484.8" font-size="14.6" font-weight="bold" textLength="79.3" lengthAdjust="spacingAndGlyphs" fill="#2a2a2a" stroke="#fff" stroke-width="0.12">CAPACITY</text>
<text x="481" y="484.8" font-size="14.6" textLength="47.4" lengthAdjust="spacingAndGlyphs" fill="#2a2a2a" stroke="#fff" stroke-width="0.1">(m&#179;/h)</text>
<text transform="translate(25.9,284.1) rotate(-90)" font-size="15.2" font-weight="bold" textLength="45" lengthAdjust="spacingAndGlyphs" fill="#2a2a2a" stroke="#fff" stroke-width="0.12">HEAD</text>
<text transform="translate(25.9,234.4) rotate(-90)" font-size="15.2" font-weight="bold" textLength="32" lengthAdjust="spacingAndGlyphs" fill="#2a2a2a" stroke="#fff" stroke-width="0.12">( m )</text>
<text x="647.6" y="35.6" font-size="15.4" font-weight="bold" textLength="82.4" lengthAdjust="spacingAndGlyphs" fill="#4b4340" stroke="#4b4340" stroke-width="0.7">1500 RPM</text>
<text x="735.1" y="35.5" font-size="14.6" textLength="55.3" lengthAdjust="spacingAndGlyphs" fill="#5a4a30" stroke="#D5A63C" stroke-width="0.15">(50 Hz)</text>
</g>
</svg>
</body></html>
